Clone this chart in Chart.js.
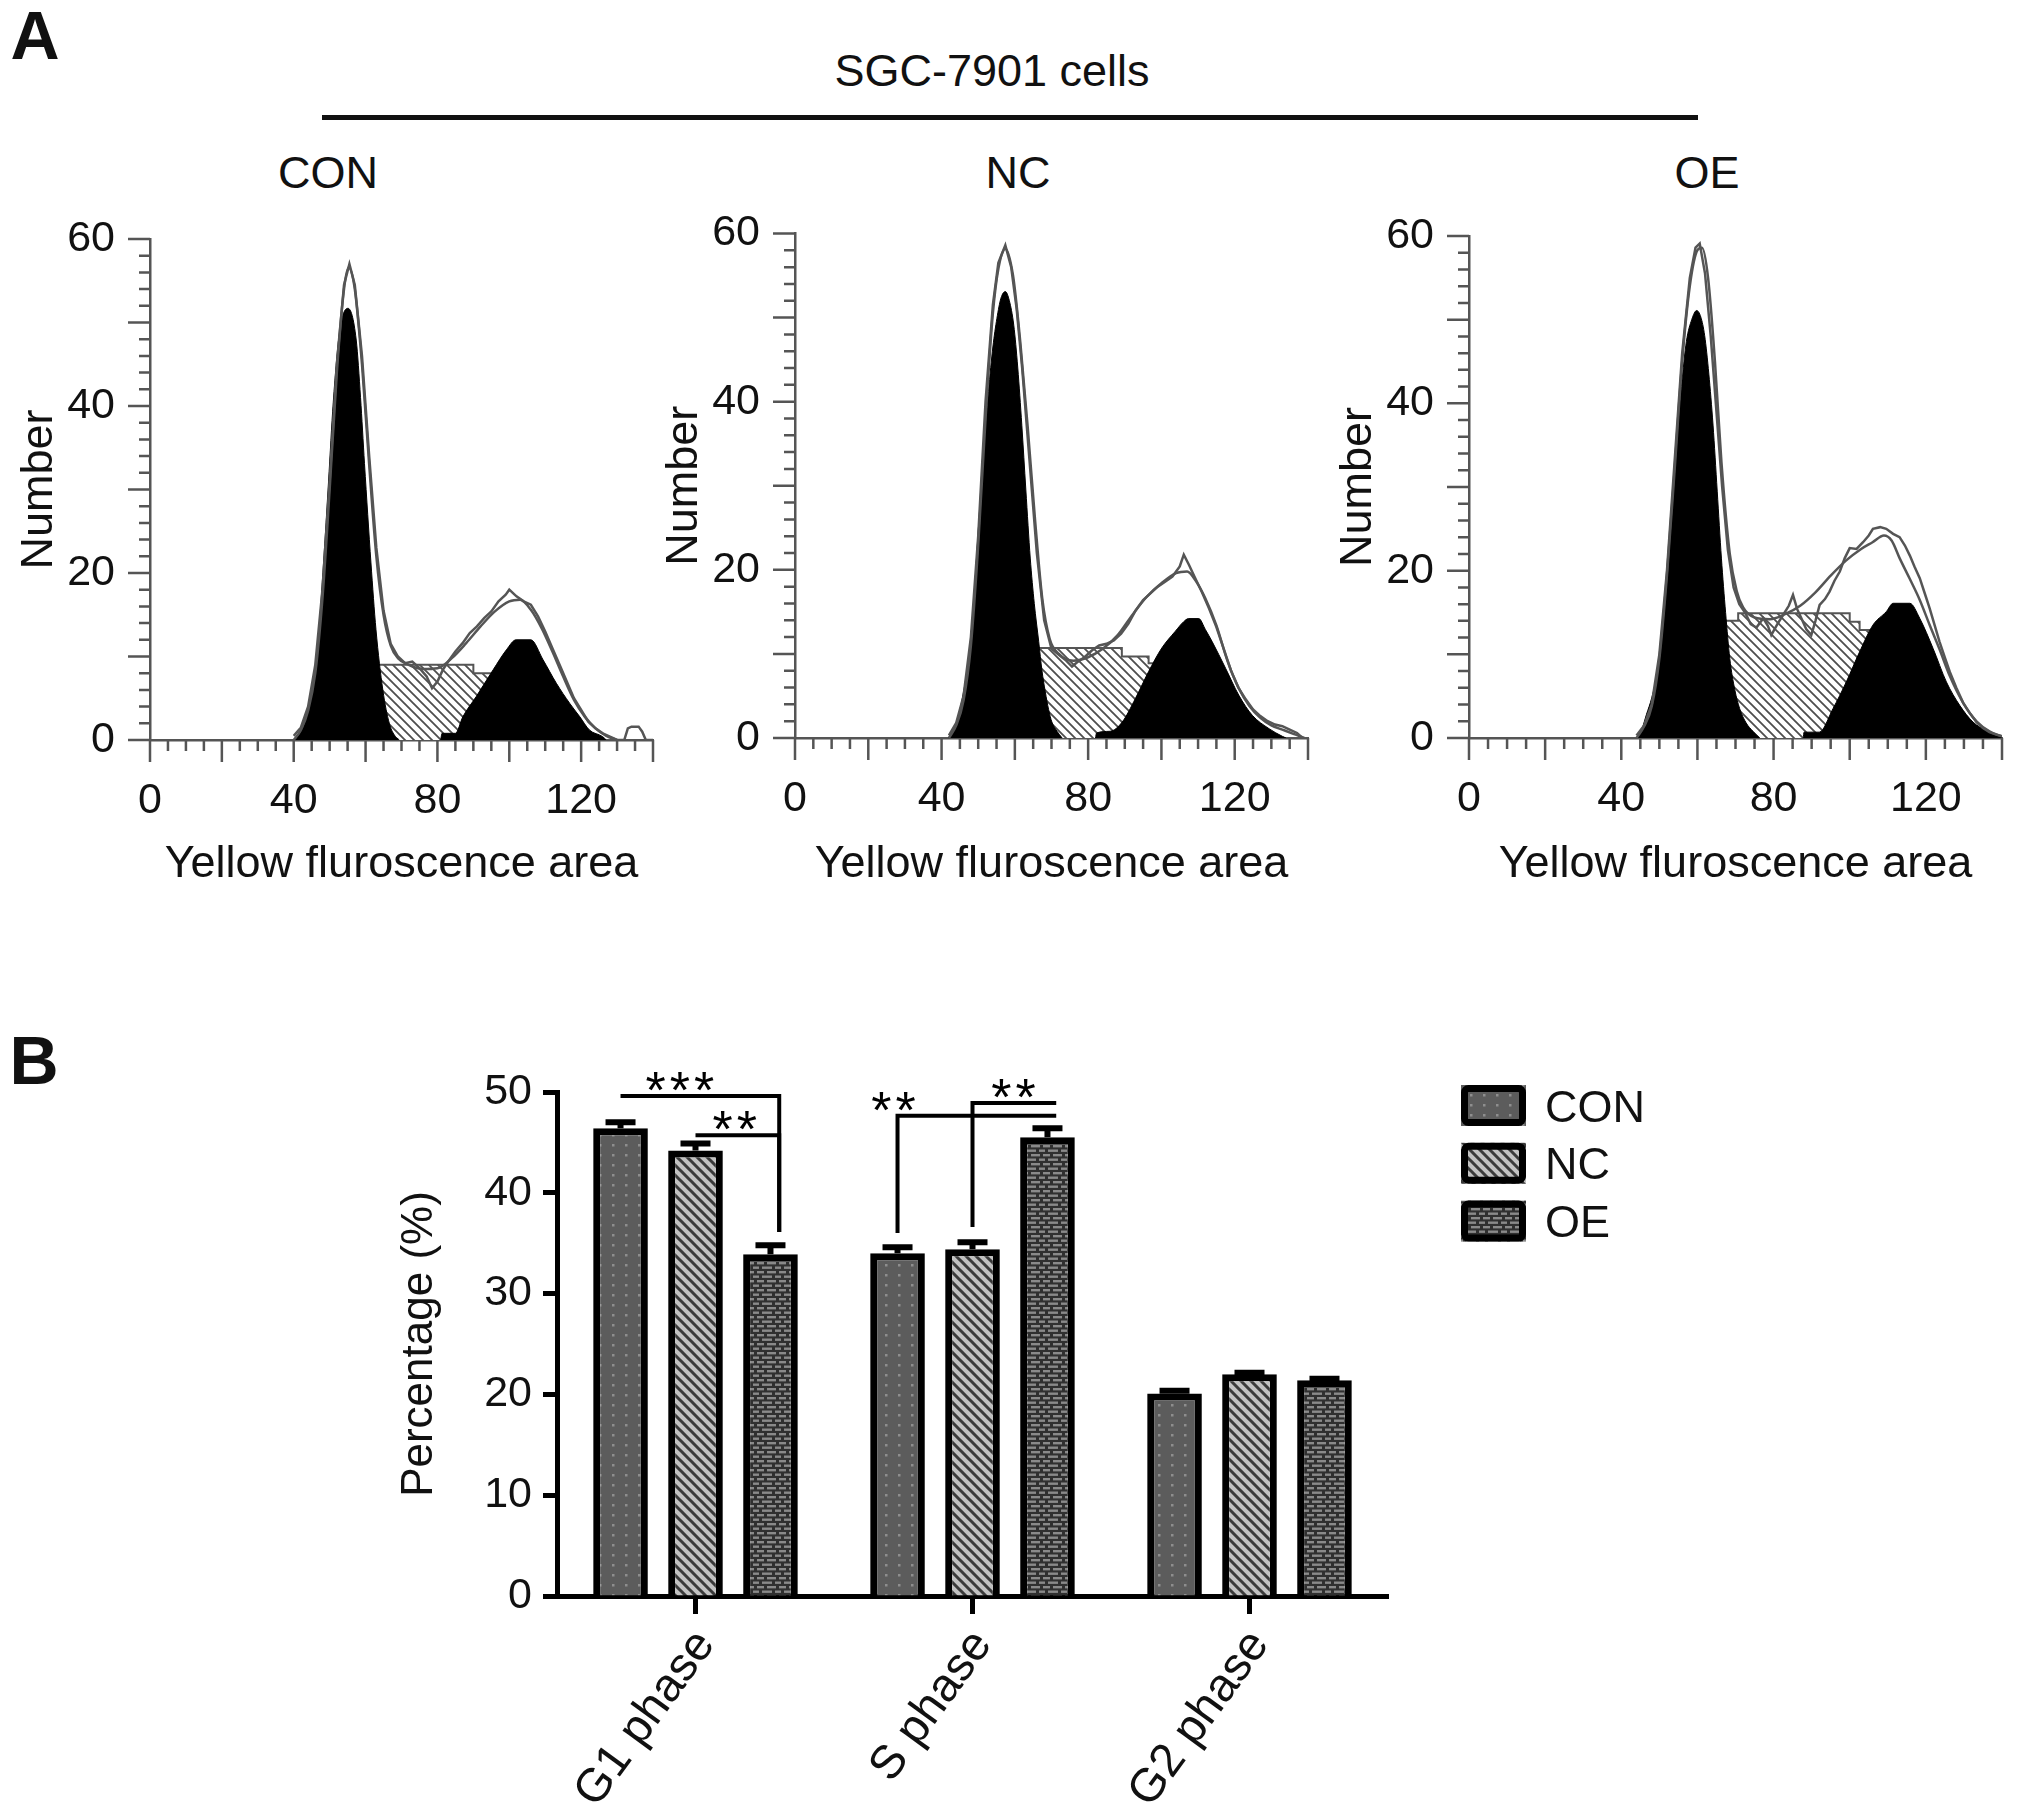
<!DOCTYPE html>
<html>
<head>
<meta charset="utf-8">
<script src="https://cdn.jsdelivr.net/npm/chart.js@4.4.1/dist/chart.umd.min.js"></script>
<style>
html,body{margin:0;padding:0;background:#fff;}
body{width:2031px;height:1808px;position:relative;overflow:hidden;font-family:"Liberation Sans",Arial,sans-serif;color:#111;}
.t{position:absolute;transform:translate(-50%,-50%);white-space:nowrap;line-height:1;}
canvas{position:absolute;}
</style>
</head>
<body>
<div class="t" style="left:35px;top:35px;font-size:68px;font-weight:bold;">A</div>
<div class="t" style="left:34px;top:1060px;font-size:68px;font-weight:bold;">B</div>
<div class="t" style="left:992px;top:70px;font-size:45px;">SGC-7901 cells</div>
<div style="position:absolute;left:322px;top:115px;width:1376px;height:5px;background:#111;"></div>
<div class="t" style="left:328px;top:172px;font-size:45px;">CON</div>
<div class="t" style="left:1018px;top:172px;font-size:45px;">NC</div>
<div class="t" style="left:1707px;top:172px;font-size:45px;">OE</div>

<canvas id="hCON" width="680" height="692" style="left:0px;top:200px"></canvas>
<canvas id="hNC" width="680" height="692" style="left:645px;top:200px"></canvas>
<canvas id="hOE" width="712" height="692" style="left:1319px;top:200px"></canvas>
<canvas id="bars" width="1330" height="808" style="left:360px;top:1000px"></canvas>

<script>
// ---------------- Panel A data (x = channel, y = count) ----------------
const conRaw = [[40,0.5],[42,1.5],[44,4],[46,9],[48,18],[50,31],[52,45],[54,54.5],[55.5,57],[57,54.5],[59,46],[61,34],[63,23],[65,15.5],[67,11.5],[69,10],[71,9.2],[73,9.4],[75,8.6],[77,7.6],[78.5,6.2],[80,7.0],[81.5,8.4],[83,9.4],[85,10.6],[87,11.6],[89,12.8],[91,13.6],[93,14.6],[95,15.4],[97,16.6],[99,17.4],[100,18],[102,17.2],[104,16.6],[106,16.2],[108,14.8],[110,13],[112,11],[114,9],[116,7],[118,5],[120,3.6],[122,2.2],[124,1.4],[126,0.8],[128,0.4],[130,0],[132,0],[133,1.4],[134,1.6],[136,1.6],[137,1.0],[138,0],[140,0]];
const conFit = [[40,0],[42,1.2],[44,3.5],[46,8],[48,17],[50,30],[52,44],[54,54],[55.3,56.6],[57,54],[59,45],[61,33],[63,22],[65,15],[67,11.3],[69,9.8],[72,9],[76,8.5],[80,8.6],[84,9.8],[88,11.6],[92,13.6],[96,15.4],[100,16.6],[103,16.8],[106,15.6],[109,13.4],[112,10.6],[115,7.6],[118,4.8],[121,2.8],[124,1.4],[127,0.5],[130,0]];
const conG1 = [[40.4,0],[42.7,1.6],[44.1,3.6],[45.5,6.5],[46.9,12.5],[48.3,21.2],[49.7,31],[51,40.4],[52.8,49],[55.1,51.7],[57.4,47.9],[58.6,41],[59.7,33.1],[60.6,27],[61.5,21.2],[62.9,13.2],[64.8,6],[66.6,2],[68,0.6],[69.4,0]];
const conG2 = [[80.9,0],[81.3,0.8],[85,0.8],[87.1,2.8],[90.8,5.2],[95.5,8.4],[99.2,10.8],[101.9,12],[106,12],[109.4,9.6],[113.1,6.8],[116.8,4.4],[119.6,2.8],[122.3,1.2],[126,0.4],[127,0]];
const conS = [[58,0],[58,9],[90,9],[90,8],[95.5,8],[95.5,0]];
const conMarks = [57, 100];

const ncRaw = [[42,0.3],[44,1.8],[46,5],[48,12],[50,24],[52,40],[54,51.5],[55.5,56.5],[57.4,58.6],[59,56],[60.5,51],[62,44],[64,33],[66,22],[68,14],[70,10.6],[72,9.9],[74,9.2],[75.6,8.5],[77,9.0],[79,9.6],[81,10.4],[83,11],[85,11.2],[87,11.6],[89,12.4],[91,13.6],[93,15.2],[95,16.4],[97,17.2],[99,18],[101,18.6],[103,19.2],[105,20.4],[106.1,21.8],[107.5,20.6],[109,19.2],[111,17.4],[113,15.4],[115,13.2],[117,10.6],[119,8],[121,6],[123,4.6],[125,3.4],[127,2.6],[129,2.0],[131,1.6],[133,1.4],[135,1.0],[137,0.6],[138.5,0]];
const ncFit = [[42,0],[44,1.5],[46,4.5],[48,11],[50,23],[52,38],[54,50.5],[55.5,55.8],[57.4,58.2],[59.5,55],[61.5,47],[63.5,37],[65.5,26],[67.5,16.5],[69.5,11.8],[72,10],[76,9.2],[80,9.6],[84,10.6],[88,12.2],[92,14.6],[96,16.8],[100,18.4],[104,19.6],[107,19.8],[109.5,18.6],[112,16.6],[115,13.4],[118,9.2],[121,6],[124,3.8],[127,2.4],[130,1.5],[133,1.0],[136,0.5],[139,0]];
const ncG1 = [[41.9,0],[43,0.8],[44.6,2.7],[46,5.5],[47.4,9.5],[48.8,16.5],[50.1,25.3],[51.5,34],[52.8,41.2],[54,46.5],[55.1,49.9],[56.2,52.3],[57.4,53.1],[58.5,52],[59.7,49.1],[60.8,44],[61.9,37.2],[63,29.5],[64.2,21.4],[65.3,16],[66.5,11.5],[67.4,8],[68.3,5.5],[69.2,3.4],[70.1,1.9],[71.5,0.8],[72.9,0]];
const ncG2 = [[82,0],[82.3,0.6],[86,0.8],[89.3,1.9],[92.9,4.7],[96.5,7.9],[100.1,10.7],[103.8,12.7],[106,13.8],[107.4,14.2],[110.2,14.2],[112,12.9],[113.8,11.5],[117.5,8.3],[121.1,5.1],[124.8,2.7],[129.4,1.1],[133,0.2],[134,0]];
const ncS = [[59,0],[59,10.7],[89.2,10.7],[89.2,9.7],[96.5,9.7],[96.5,8.9],[98.8,8.9],[98.8,0]];
const ncMarks = [58.3, 109.3];

const oeRaw = [[44,0.3],[46,1.5],[48,4],[50,10],[52,20],[54,33],[56,46],[58,55],[59.5,58.6],[60.6,59.1],[62,55.5],[63.5,48],[65,39],[66.5,30],[68,22.5],[69.5,18],[71,16],[72.5,15],[74,13.6],[75.5,13.2],[77.3,14.3],[78.5,13.4],[79.4,12.3],[81,13.6],[82.5,14.7],[84,15.8],[85.1,17.1],[86.2,15.4],[87.3,14.3],[88.6,13],[89.9,12.3],[91,14],[92.1,15.9],[93.5,16.6],[94.7,17.5],[96,18.8],[97.4,19.9],[98.7,21.5],[100,22.7],[101.8,22.6],[103.5,23.4],[105,24.2],[106.1,25],[108,25.2],[109.6,25],[111.4,24.4],[113.1,24],[114.5,23],[115.8,21.8],[117,20.5],[118.4,19.1],[119.7,17.3],[121,15.5],[122.3,13.5],[123.6,11.5],[125,9.6],[126.3,7.9],[128,6],[129.8,4.2],[131.5,3],[133.3,1.9],[135,1.2],[136.7,0.7],[138.5,0.4],[140,0.2]];
const oeFit = [[44,0],[46,1.4],[48,3.8],[50,9.5],[52,19.5],[54,32],[56,45],[58,54],[60,58.3],[61.2,58.6],[62.8,55],[64.6,45],[66.3,33],[68.5,22],[70.3,17.6],[72,15.6],[75,14.4],[79,14.2],[83,14.8],[87,15.8],[91,17.4],[95,19.4],[99,21.2],[103,22.6],[106,23.4],[109,24.2],[111,23.6],[113.1,21.5],[115.8,19],[118.4,16.5],[121,13.5],[123.6,10.6],[126.3,7.4],[129.8,4.2],[133.3,2],[136.7,0.8],[140,0.2]];
const oeG1 = [[44,0],[45.5,1.2],[46.6,2.8],[48,4.8],[49.3,7.5],[50.6,12.5],[51.9,19.5],[53.2,27.5],[54.5,35.4],[55.8,42],[57.1,47.4],[58.5,50],[59.8,51.1],[60.9,50.3],[61.9,48.1],[63,43.5],[64.1,37.4],[65.2,29.5],[66.3,21.5],[67.4,15],[68.5,9.5],[69.8,5.8],[71.1,3.5],[72.8,1.8],[74.6,0.8],[76.4,0]];
const oeG2 = [[87.8,0],[88,0.7],[92,0.7],[95.6,3.5],[99.1,6.7],[102.6,10.3],[106.1,13.5],[109.6,15.1],[111.4,16.1],[115.8,16.1],[118.4,14.3],[121.9,10.7],[125.4,6.7],[128.9,3.9],[132.4,1.9],[135.8,0.9],[139.3,0.2],[140,0]];
const oeS = [[62,0],[62,14.0],[70.7,14.0],[70.7,14.9],[100,14.9],[100,13.9],[102.6,13.9],[102.6,12.9],[106,12.9],[106,0]];
const oeMarks = [];

const histXTicks = [0, 40, 80, 120];
const histYTicks = [0, 20, 40, 60];

// ---------------- Panel B data ----------------
const phases = ['G1 phase', 'S phase', 'G2 phase'];
const groups = ['CON', 'NC', 'OE'];
const meanCON = [46.4, 34.0, 20.1];
const meanNC  = [44.2, 34.4, 22.0];
const meanOE  = [33.9, 45.5, 21.4];
const semCON  = [0.6, 0.6, 0.25];
const semNC   = [0.7, 0.7, 0.15];
const semOE   = [0.9, 0.9, 0.15];
const barYTicks = [0, 10, 20, 30, 40, 50];

// significance brackets
const sigText  = ['***', '**', '**', '**'];
const sigPhase = [0, 0, 1, 1];
const sigFrom  = [0, 1, 0, 1];
const sigTo    = [2, 2, 2, 2];
const sigLevel = [49.6, 45.7, 47.65, 48.9];
const sigDropAt = ['to', 'to', 'from', 'from'];
const sigDropTo = [36.1, 36.1, 36.0, 36.6];
const sigTextPos = [0.374, 0.468, -0.025, 0.49];

// ---------------- helpers ----------------
const FONT = '"Liberation Sans", Arial, sans-serif';
Chart.defaults.font.family = FONT;
Chart.defaults.color = '#111';
const LINE = '#555555';
const pts = a => a.map(p => ({x: p[0], y: p[1]}));

function makeTile(w, h, draw) {
  const c = document.createElement('canvas');
  c.width = w; c.height = h;
  const g = c.getContext('2d');
  draw(g, w, h);
  return g.createPattern(c, 'repeat');
}
function diagTile(size, bg, fg, lw) {
  return makeTile(size, size, (g, w, h) => {
    g.fillStyle = bg; g.fillRect(0, 0, w, h);
    g.strokeStyle = fg; g.lineWidth = lw;
    g.beginPath();
    g.moveTo(-2, -2); g.lineTo(w + 2, h + 2);
    g.moveTo(-2, h - 2); g.lineTo(2, h + 2);
    g.moveTo(w - 2, -2); g.lineTo(w + 2, 2);
    g.stroke();
  });
}
const hatchS = diagTile(9, '#ffffff', '#4e4e4e', 1.8);
const patCON = makeTile(13, 10, (g, w, h) => {
  g.fillStyle = '#5c5c5c'; g.fillRect(0, 0, w, h);
  g.fillStyle = '#8e8e8e'; g.fillRect(5, 4, 2.5, 2.5);
});
const patNC = diagTile(10, '#c2c2c2', '#3a3a3a', 3);
const patOE = makeTile(22, 9, (g, w, h) => {
  g.fillStyle = '#303030'; g.fillRect(0, 0, w, h);
  g.fillStyle = '#8a8a8a';
  g.fillRect(1, 1, 7, 2.4); g.fillRect(11, 1, 9, 2.4);
  g.fillRect(0, 5.5, 3, 2.4); g.fillRect(6, 5.5, 10, 2.4); g.fillRect(19, 5.5, 3, 2.4);
});

// tick marks for histogram axes (drawn from the chart's own scales)
const histTicks = {
  id: 'histTicks',
  afterDraw(chart, args, o) {
    const {ctx} = chart, xs = chart.scales.x, ys = chart.scales.y;
    ctx.save();
    ctx.strokeStyle = o.color; ctx.lineWidth = o.width;
    ctx.beginPath();
    for (let v = xs.min; v <= xs.max + 1e-6; v += o.xMinor) {
      const p = xs.getPixelForValue(v);
      const L = (Math.abs(v % o.xMajor) < 1e-6) ? o.majorLen : o.minorLen;
      ctx.moveTo(p, ys.bottom); ctx.lineTo(p, ys.bottom + L);
    }
    for (let v = ys.min; v <= ys.max + 1e-6; v += o.yMinor) {
      const p = ys.getPixelForValue(v);
      const L = (Math.abs(v % o.yMajor) < 1e-6) ? o.majorLen : o.minorLen;
      ctx.moveTo(xs.left, p); ctx.lineTo(xs.left - L, p);
    }
    ctx.stroke();
    ctx.restore();
  }
};

function makeHist(id, d, pad) {
  new Chart(document.getElementById(id), {
    type: 'line',
    data: {
      datasets: [
        {label: 'Peak', type: 'scatter', data: d.marks.map(x => ({x: x, y: -1.4})), pointStyle: 'triangle',
         pointRadius: 7, backgroundColor: '#000', borderColor: '#000', borderWidth: 1, clip: false, order: 0},
        {label: 'Data', data: pts(d.raw), borderColor: LINE, borderWidth: 2.5, pointRadius: 0, fill: false, tension: 0, order: 1},
        {label: 'Fit', data: pts(d.fit), borderColor: LINE, borderWidth: 2.5, pointRadius: 0, fill: false,
         cubicInterpolationMode: 'monotone', order: 2},
        {label: 'G1', data: pts(d.g1), borderColor: '#000', backgroundColor: '#000', borderWidth: 1, pointRadius: 0,
         fill: 'origin', cubicInterpolationMode: 'monotone', order: 3},
        {label: 'G2', data: pts(d.g2), borderColor: '#000', backgroundColor: '#000', borderWidth: 1, pointRadius: 0,
         fill: 'origin', cubicInterpolationMode: 'monotone', order: 4},
        {label: 'S', data: pts(d.s), borderColor: LINE, borderWidth: 2, backgroundColor: hatchS, pointRadius: 0,
         fill: 'origin', tension: 0, order: 5}
      ]
    },
    options: {
      responsive: false, animation: false, events: [],
      layout: {padding: {top: pad.top, right: pad.right, left: 0, bottom: 0}},
      plugins: {
        legend: {display: false}, tooltip: {enabled: false},
        histTicks: {color: LINE, width: 2.5, xMinor: 5, xMajor: 20, yMinor: 2, yMajor: 10, majorLen: 22, minorLen: 11}
      },
      scales: {
        x: {
          type: 'linear', min: 0, max: 140,
          afterFit: s => { s.height = pad.xh; },
          grid: {display: false, drawTicks: true, tickLength: 35},
          border: {display: true, color: LINE, width: 2.5},
          afterBuildTicks: s => { s.ticks = histXTicks.map(v => ({value: v})); },
          ticks: {font: {size: 43}, padding: 0, maxRotation: 0, autoSkip: false, color: '#111'},
          title: {display: true, text: 'Yellow fluroscence area', font: {size: 45}, padding: {top: 0, bottom: 0}, color: '#111'}
        },
        y: {
          type: 'linear', min: 0, max: 60,
          afterFit: s => { s.width = 150; },
          grid: {display: false, drawTicks: true, tickLength: 35},
          border: {display: true, color: LINE, width: 2.5},
          afterBuildTicks: s => { s.ticks = histYTicks.map(v => ({value: v})); },
          ticks: {font: {size: 43}, padding: 0, color: '#111'},
          title: {display: true, text: 'Number', font: {size: 45}, padding: {top: 13, bottom: 0}, color: '#111'}
        }
      }
    },
    plugins: [histTicks]
  });
}

makeHist('hCON', {raw: conRaw, fit: conFit, g1: conG1, g2: conG2, s: conS, marks: conMarks}, {top: 39, right: 27, xh: 152});
makeHist('hNC',  {raw: ncRaw,  fit: ncFit,  g1: ncG1,  g2: ncG2,  s: ncS,  marks: ncMarks},  {top: 33.5, right: 17, xh: 154});
makeHist('hOE',  {raw: oeRaw,  fit: oeFit,  g1: oeG1,  g2: oeG2,  s: oeS,  marks: oeMarks},  {top: 36, right: 29, xh: 154});

// ---------------- Panel B plugins ----------------
const errorBars = {
  id: 'errorBars',
  afterDatasetsDraw(chart, args, o) {
    const {ctx} = chart, ys = chart.scales.y;
    ctx.save();
    ctx.strokeStyle = '#000'; ctx.lineWidth = 6; ctx.lineCap = 'butt';
    chart.data.datasets.forEach((ds, i) => {
      const meta = chart.getDatasetMeta(i);
      meta.data.forEach((bar, j) => {
        const top = ys.getPixelForValue(ds.data[j] + ds.sem[j]);
        ctx.beginPath();
        ctx.moveTo(bar.x, bar.y); ctx.lineTo(bar.x, top);
        ctx.moveTo(bar.x - 15, top); ctx.lineTo(bar.x + 15, top);
        ctx.stroke();
      });
    });
    ctx.restore();
  }
};

const sigBrackets = {
  id: 'sigBrackets',
  afterDraw(chart) {
    const {ctx} = chart, ys = chart.scales.y;
    const fs = 52, sp = 4;
    ctx.save();
    ctx.strokeStyle = '#000'; ctx.fillStyle = '#000'; ctx.lineWidth = 4;
    ctx.font = fs + 'px ' + FONT;
    ctx.textAlign = 'center'; ctx.textBaseline = 'alphabetic';
    ctx.letterSpacing = sp + 'px';
    sigText.forEach((txt, k) => {
      const b1 = chart.getDatasetMeta(sigFrom[k]).data[sigPhase[k]];
      const b2 = chart.getDatasetMeta(sigTo[k]).data[sigPhase[k]];
      const x1 = b1.x, x2 = b2.x + b2.width * 0.16;
      const yL = ys.getPixelForValue(sigLevel[k]);
      const yD = ys.getPixelForValue(sigDropTo[k]);
      const xd = sigDropAt[k] === 'to' ? x2 : x1;
      ctx.beginPath();
      ctx.moveTo(x1, yL); ctx.lineTo(x2, yL);
      ctx.moveTo(xd, yL - 2); ctx.lineTo(xd, yD);
      ctx.stroke();
      const tx = x1 + (x2 - x1) * sigTextPos[k];
      ctx.fillText(txt, tx + sp / 2, yL - 18 + fs * 0.575);
    });
    ctx.restore();
  }
};

const patternLegend = {
  id: 'patternLegend',
  afterDraw(chart, args, o) {
    const {ctx} = chart;
    ctx.save();
    chart.data.datasets.forEach((ds, i) => {
      const x = o.x, y = o.y + i * o.step, w = o.w, h = o.h, lw = 7;
      ctx.fillStyle = ds.backgroundColor;
      ctx.fillRect(x, y, w, h);
      ctx.strokeStyle = '#000'; ctx.lineWidth = lw;
      ctx.beginPath();
      ctx.roundRect(x + lw / 2, y + lw / 2, w - lw, h - lw, 4);
      ctx.stroke();
      ctx.fillStyle = '#111';
      ctx.font = '45px ' + FONT;
      ctx.textAlign = 'left'; ctx.textBaseline = 'alphabetic';
      ctx.fillText(ds.label, o.textX, y + h / 2 + 16);
    });
    ctx.restore();
  }
};

new Chart(document.getElementById('bars'), {
  type: 'bar',
  data: {
    labels: phases,
    datasets: [
      {label: groups[0], data: meanCON, sem: semCON, backgroundColor: patCON},
      {label: groups[1], data: meanNC,  sem: semNC,  backgroundColor: patNC},
      {label: groups[2], data: meanOE,  sem: semOE,  backgroundColor: patOE}
    ].map(d => Object.assign(d, {borderColor: '#000', borderWidth: 7, borderSkipped: 'start',
                                 categoryPercentage: 0.812, barPercentage: 0.729}))
  },
  options: {
    responsive: false, animation: false, events: [],
    layout: {padding: {top: 92, left: 33, right: 302, bottom: 0}},
    plugins: {
      legend: {display: false}, tooltip: {enabled: false},
      patternLegend: {x: 1101, y: 85, step: 57.8, w: 65, h: 41, textX: 1185}
    },
    scales: {
      x: {
        afterFit: s => { s.height = 212; },
        grid: {display: true, drawOnChartArea: false, drawTicks: true, tickLength: 18, tickWidth: 5, tickColor: '#000', offset: false},
        border: {display: true, color: '#000', width: 5},
        ticks: {font: {size: 47}, padding: 6, minRotation: 54, maxRotation: 54, labelOffset: 10, color: '#111'}
      },
      y: {
        min: 0, max: 50,
        afterFit: s => { s.width = 164; },
        afterBuildTicks: s => { s.ticks = barYTicks.map(v => ({value: v})); },
        grid: {display: true, drawOnChartArea: false, drawTicks: true, tickLength: 14, tickWidth: 5, tickColor: '#000'},
        border: {display: true, color: '#000', width: 5},
        ticks: {font: {size: 43}, padding: 11, color: '#111'},
        title: {display: true, text: 'Percentage (%)', font: {size: 44}, padding: {top: 0, bottom: 0}, color: '#111'}
      }
    }
  },
  plugins: [errorBars, sigBrackets, patternLegend]
});
</script>
</body>
</html>
